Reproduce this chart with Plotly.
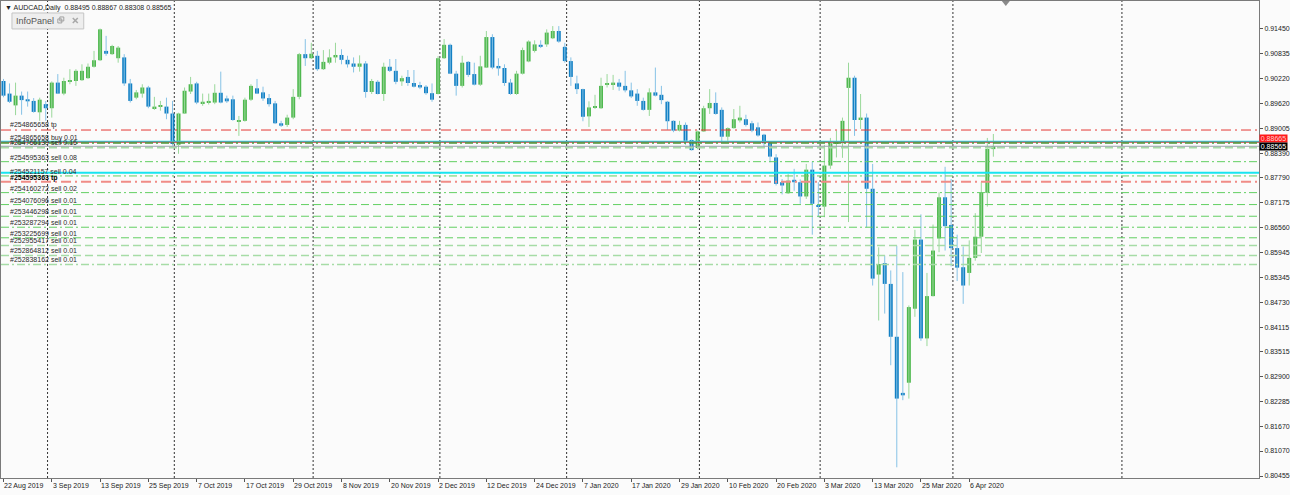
import plotly.graph_objects as go
import pandas as pd

# ---------------- data ----------------
holidays = ["2019-12-25", "2020-01-01"]
dates = [d for d in pd.bdate_range("2019-08-22", "2020-04-10") if d.strftime("%Y-%m-%d") not in holidays]

opens = [0.9017, 0.8986, 0.8957, 0.8981, 0.8972, 0.8968, 0.8940, 0.8960, 0.8950, 0.9013,
         0.8986, 0.9015, 0.9017, 0.9019, 0.9024, 0.9052, 0.9068, 0.9091, 0.9083, 0.9073,
         0.9075, 0.9011, 0.8976, 0.8986, 0.9001, 0.8950, 0.8954, 0.8954, 0.8937, 0.8860,
         0.8937, 0.8991, 0.9011, 0.8962, 0.8964, 0.8964, 0.8988, 0.8974, 0.8972, 0.8918,
         0.8919, 0.8971, 0.8999, 0.8989, 0.8975, 0.8962, 0.8913, 0.8909, 0.8927, 0.8978,
         0.9083, 0.9073, 0.9079, 0.9046, 0.9062, 0.9075, 0.9081, 0.9069, 0.9060, 0.9052,
         0.9060, 0.8990, 0.9015, 0.8985, 0.9052, 0.9042, 0.9016, 0.9027, 0.9012, 0.9007,
         0.9003, 0.8987, 0.8985, 0.9073, 0.9106, 0.9035, 0.9005, 0.9064, 0.9034, 0.9008,
         0.9050, 0.9125, 0.9054, 0.9049, 0.9013, 0.8985, 0.9035, 0.9065, 0.9091, 0.9106,
         0.9107, 0.9122, 0.9140, 0.9101, 0.9066, 0.9011, 0.8997, 0.8930, 0.8953, 0.8950,
         0.9008, 0.9009, 0.9013, 0.9005, 0.8994, 0.8986, 0.8968, 0.8946, 0.8989, 0.8983,
         0.8966, 0.8919, 0.8895, 0.8909, 0.8872, 0.8852, 0.8893, 0.8950, 0.8963, 0.8946,
         0.8880, 0.8901, 0.8920, 0.8923, 0.8913, 0.8903, 0.8885, 0.8866, 0.8829, 0.8768,
         0.8741, 0.8774, 0.8768, 0.8733, 0.8799, 0.8711, 0.8708, 0.8809, 0.8862, 0.8864,
         0.9000, 0.9025, 0.8921, 0.8927, 0.8752, 0.8541, 0.8569, 0.8518, 0.8388, 0.8250,
         0.8275, 0.8457, 0.8627, 0.8384, 0.8488, 0.8630, 0.8731, 0.8663, 0.8606, 0.8559,
         0.8545, 0.8582, 0.8634, 0.8742, 0.88495]

highs = [0.9022, 0.9011, 0.9013, 0.8991, 0.8991, 0.8975, 0.8976, 0.8968, 0.9016, 0.9034,
         0.9025, 0.9046, 0.9046, 0.9058, 0.9060, 0.9091, 0.9146, 0.9128, 0.9106, 0.9103,
         0.9083, 0.9022, 0.8995, 0.9009, 0.9005, 0.8978, 0.8968, 0.8976, 0.8968, 0.8939,
         0.9001, 0.9027, 0.9015, 0.8986, 0.8986, 0.9009, 0.9040, 0.8981, 0.8981, 0.8931,
         0.8976, 0.9009, 0.9022, 0.9003, 0.8985, 0.8968, 0.8919, 0.8934, 0.8997, 0.9086,
         0.9120, 0.9111, 0.9091, 0.9093, 0.9095, 0.9111, 0.9095, 0.9079, 0.9075, 0.9080,
         0.9066, 0.9022, 0.9019, 0.9062, 0.9071, 0.9071, 0.9030, 0.9044, 0.9044, 0.9015,
         0.9007, 0.9011, 0.9078, 0.9120, 0.9109, 0.9042, 0.9079, 0.9066, 0.9062, 0.9079,
         0.9140, 0.9132, 0.9073, 0.9058, 0.9022, 0.9042, 0.9099, 0.9117, 0.9117, 0.9117,
         0.9144, 0.9152, 0.9152, 0.9111, 0.9075, 0.9030, 0.8998, 0.8967, 0.8983, 0.9025,
         0.9034, 0.9032, 0.9022, 0.9042, 0.9013, 0.8997, 0.8976, 0.8999, 0.9050, 0.9005,
         0.8968, 0.8920, 0.8919, 0.8915, 0.8873, 0.8895, 0.8956, 0.8997, 0.8989, 0.8952,
         0.8903, 0.8948, 0.8956, 0.8934, 0.8919, 0.8915, 0.8887, 0.8868, 0.8837, 0.8776,
         0.8788, 0.8801, 0.8775, 0.8813, 0.8819, 0.8768, 0.8860, 0.8877, 0.8895, 0.8927,
         0.9062, 0.9030, 0.8985, 0.8937, 0.8813, 0.8608, 0.8588, 0.8551, 0.8612, 0.8547,
         0.8465, 0.8651, 0.8689, 0.8545, 0.8664, 0.8743, 0.8806, 0.8776, 0.8639, 0.8610,
         0.8625, 0.8692, 0.8768, 0.8877, 0.88867]

lows = [0.8977, 0.8963, 0.8933, 0.8934, 0.8954, 0.8939, 0.8919, 0.8919, 0.8927, 0.8985,
        0.8982, 0.9009, 0.9005, 0.9017, 0.9022, 0.9050, 0.9066, 0.9079, 0.9081, 0.9062,
        0.9005, 0.8964, 0.8972, 0.8976, 0.8950, 0.8946, 0.8944, 0.8923, 0.8858, 0.8838,
        0.8936, 0.8985, 0.8960, 0.8956, 0.8959, 0.8960, 0.8962, 0.8963, 0.8919, 0.8882,
        0.8917, 0.8968, 0.8985, 0.8968, 0.8954, 0.8911, 0.8904, 0.8904, 0.8923, 0.8972,
        0.9054, 0.9071, 0.9042, 0.9044, 0.9058, 0.9062, 0.9058, 0.9050, 0.9038, 0.9040,
        0.8976, 0.8985, 0.8984, 0.8968, 0.9039, 0.9009, 0.9005, 0.9005, 0.9001, 0.8997,
        0.8983, 0.8966, 0.8984, 0.9071, 0.9034, 0.8981, 0.9001, 0.9027, 0.9006, 0.9005,
        0.9049, 0.9046, 0.9030, 0.9005, 0.8983, 0.8983, 0.9033, 0.9063, 0.9087, 0.9098,
        0.9101, 0.9120, 0.9111, 0.9062, 0.9005, 0.8985, 0.8918, 0.8904, 0.8948, 0.8948,
        0.9001, 0.8995, 0.8993, 0.8989, 0.8975, 0.8956, 0.8944, 0.8931, 0.8979, 0.8960,
        0.8897, 0.8891, 0.8893, 0.8860, 0.8846, 0.8849, 0.8892, 0.8936, 0.8934, 0.8866,
        0.8870, 0.8900, 0.8915, 0.8905, 0.8891, 0.8880, 0.8854, 0.8817, 0.8760, 0.8738,
        0.8739, 0.8747, 0.8715, 0.8727, 0.8639, 0.8682, 0.8682, 0.8801, 0.8829, 0.8828,
        0.8670, 0.8882, 0.8899, 0.8657, 0.8514, 0.8428, 0.8445, 0.8318, 0.8067, 0.8232,
        0.8236, 0.8437, 0.8378, 0.8365, 0.8487, 0.8596, 0.8600, 0.8561, 0.8525, 0.8469,
        0.8514, 0.8575, 0.8594, 0.8708, 0.88308]

closes = [0.8981, 0.8966, 0.8981, 0.8970, 0.8967, 0.8941, 0.8971, 0.8950, 0.9013, 0.8986,
          0.9017, 0.9019, 0.9042, 0.9042, 0.9052, 0.9068, 0.9144, 0.9084, 0.9103, 0.9099,
          0.9011, 0.8968, 0.8989, 0.9001, 0.8954, 0.8954, 0.8958, 0.8937, 0.8862, 0.8937,
          0.8993, 0.9009, 0.8964, 0.8966, 0.8968, 0.8988, 0.8964, 0.8967, 0.8921, 0.8921,
          0.8971, 0.9005, 0.8986, 0.8974, 0.8960, 0.8913, 0.8907, 0.8927, 0.8978, 0.9083,
          0.9073, 0.9084, 0.9046, 0.9064, 0.9075, 0.9081, 0.9069, 0.9058, 0.9052, 0.9060,
          0.8990, 0.9017, 0.8985, 0.9052, 0.9042, 0.9015, 0.9024, 0.9012, 0.9003, 0.9001,
          0.8987, 0.8971, 0.9073, 0.9106, 0.9035, 0.9005, 0.9062, 0.9032, 0.9008, 0.9053,
          0.9125, 0.9050, 0.9048, 0.9012, 0.8985, 0.9035, 0.9093, 0.9114, 0.9107, 0.9101,
          0.9136, 0.9140, 0.9114, 0.9066, 0.9027, 0.8997, 0.8929, 0.8952, 0.8954, 0.9005,
          0.9012, 0.9013, 0.9003, 0.8994, 0.8979, 0.8968, 0.8946, 0.8989, 0.8981, 0.8970,
          0.8918, 0.8895, 0.8909, 0.8870, 0.8847, 0.8893, 0.8950, 0.8963, 0.8936, 0.8880,
          0.8901, 0.8923, 0.8927, 0.8909, 0.8895, 0.8883, 0.8864, 0.8831, 0.8764, 0.8760,
          0.8772, 0.8768, 0.8733, 0.8799, 0.8715, 0.8708, 0.8809, 0.8864, 0.8868, 0.8919,
          0.9025, 0.8921, 0.8927, 0.8752, 0.8531, 0.8567, 0.8518, 0.8388, 0.8236, 0.8244,
          0.8461, 0.8627, 0.8384, 0.8488, 0.8600, 0.8731, 0.8660, 0.8606, 0.8558, 0.8514,
          0.8582, 0.8634, 0.8742, 0.8850, 0.88565]

price_ticks = [0.91450, 0.90835, 0.90220, 0.89620, 0.89005, 0.88390, 0.87790, 0.87175,
               0.86560, 0.85945, 0.85345, 0.84730, 0.84115, 0.83515, 0.82900, 0.82285,
               0.81670, 0.81070, 0.80455]

order_labels = ["#254865658 tp", "#254865658 buy 0.01", "#254766139 sell 0.16",
                "#254595363 sell 0.08", "#254521157 sell 0.04", "#254160272 sell 0.02",
                "#254076096 sell 0.01", "#253446298 sell 0.01", "#253287294 sell 0.01",
                "#253225699 sell 0.01", "#252955417 sell 0.01", "#252864812 sell 0.01",
                "#252838162 sell 0.01"]
order_prices = [0.88964, 0.88645, 0.88537, 0.88186, 0.87835, 0.87425, 0.87131, 0.86844,
                0.86574, 0.86314, 0.86125, 0.85879, 0.85658]
sell_tp_label = "#254595363 tp"
sell_tp_price = 0.87695
bid_price = 0.88565
ask_price = 0.88665
hline_prices = [0.88684, 0.87916]
symbol_title = "AUDCAD,Daily"

# ---------------- geometry / style ----------------
W, H = 1290, 495
PW, PH = 1262, 478
BAR_PX = 6.055
X0_PX = 2.5
Y_TOP = 0.92137
PRICE_PER_PX = 0.0002454

x_range = [(0 - X0_PX) / BAR_PX, (PW - X0_PX) / BAR_PX]
y_range = [Y_TOP - PRICE_PER_PX * PH, Y_TOP]

BLUE_BODY, BLUE_WICK = "#1380c4", "#86c2e6"
GREEN_BODY, GREEN_WICK = "#4fb84f", "#9ad89a"
FONT = "Liberation Sans, Arial, sans-serif"

idx = list(range(len(dates)))
up = [c >= o for o, c in zip(opens, closes)]
min_body = PRICE_PER_PX * 1.0

fig = go.Figure()

# wicks
for flag, col in [(True, GREEN_WICK), (False, BLUE_WICK)]:
    xs, ys = [], []
    for i in idx:
        if up[i] == flag:
            xs += [i, i, None]
            ys += [lows[i], highs[i], None]
    fig.add_trace(go.Scatter(x=xs, y=ys, mode="lines", line=dict(color=col, width=1),
                             hoverinfo="skip", showlegend=False))

# bodies
base = [min(o, c) for o, c in zip(opens, closes)]
height = [max(abs(c - o), min_body) for o, c in zip(opens, closes)]
fig.add_trace(go.Bar(x=idx, y=height, base=base, width=4 / BAR_PX,
                     marker=dict(color=[GREEN_BODY if u else BLUE_BODY for u in up], line=dict(width=0)),
                     hoverinfo="skip", showlegend=False))

shapes = []
annotations = []

def px_x(px):
    return px / PW

def px_y(py):
    return 1 - py / PH

# month separators (first bar of each month + extrapolated future month)
sep_idx = []
prev_month = None
for i, d in enumerate(dates):
    if prev_month is not None and d.month != prev_month:
        sep_idx.append(i)
    prev_month = d.month
sep_idx.append(len(dates) - 1 + (pd.Timestamp("2020-05-01") - dates[-1]).days)
for s in sep_idx:
    shapes.append(dict(type="line", xref="x", yref="paper", x0=s + 0.3, x1=s + 0.3, y0=0, y1=1,
                       line=dict(color="#333333", width=1, dash="2px,2px"), layer="below"))

GREEN_DD = "#62cf62"
LIGHT_G = "#a6dca6"
DASHDOT = "8px,3px,2px,3px"
DASH = "8px,4px"

def hline(p, color, width, dash=None):
    shapes.append(dict(type="line", xref="paper", yref="y", x0=0, x1=1, y0=p, y1=p,
                       line=dict(color=color, width=width, dash=dash if dash else "solid")))

# order lines
order_styles = [("#e53935", 1, "10px,4px,2px,4px"),
                ("#4a9a3a", 1.5, DASHDOT),
                (LIGHT_G, 2, DASH),
                (GREEN_DD, 1, DASHDOT),
                (GREEN_DD, 1, DASHDOT),
                (GREEN_DD, 1, DASHDOT),
                (GREEN_DD, 1, DASH),
                (GREEN_DD, 1, DASH),
                (GREEN_DD, 1, DASHDOT),
                (GREEN_DD, 1, DASH),
                (LIGHT_G, 1.5, DASH),
                (LIGHT_G, 1.5, DASH),
                (LIGHT_G, 1.5, DASHDOT)]
hline(hline_prices[0], "#18e4f0", 1.5)
hline(ask_price, "#d32f2f", 1)
for p, (c, w, d) in zip(order_prices, order_styles):
    hline(p, c, w, d)
hline(bid_price, "#9aa3ad", 1)
hline(sell_tp_price, "#f08c86", 2, "10px,4px,2px,4px")
hline(hline_prices[1], "#18e4f0", 2)

# order labels
for t, p in zip(order_labels, order_prices):
    annotations.append(dict(text=t, xref="paper", yref="y", x=px_x(7), y=p, xanchor="left",
                            yanchor="bottom", showarrow=False, yshift=-1,
                            font=dict(family=FONT, size=7, color="#2b2b2b")))
annotations.append(dict(text="<b>" + sell_tp_label + "</b>", xref="paper", yref="y", x=px_x(7),
                        y=sell_tp_price, xanchor="left", yanchor="bottom", showarrow=False, yshift=-2,
                        font=dict(family=FONT, size=7, color="#000000")))

# price boxes on the right axis
annotations.append(dict(text="0.88665", xref="paper", yref="y", x=1, y=ask_price, xanchor="left",
                        yanchor="middle", yshift=4, showarrow=False, bgcolor="#ff1a1a", width=27,
                        height=7, borderpad=0, font=dict(family=FONT, size=7, color="#ffd0d0")))
annotations.append(dict(text="0.88565", xref="paper", yref="y", x=1, y=bid_price, xanchor="left",
                        yanchor="middle", showarrow=False, bgcolor="#000000", width=27, height=7,
                        borderpad=0, font=dict(family=FONT, size=7, color="#ffffff")))

# time labels (text starts at the tick)
for i in range(0, len(dates), 8):
    annotations.append(dict(text=dates[i].strftime("%-d %b %Y"), xref="x", yref="paper", x=i, y=0,
                            xanchor="left", yanchor="top", yshift=-2, xshift=-1, showarrow=False,
                            font=dict(family=FONT, size=7, color="#222222")))

# header
o, h, l, c = opens[-1], highs[-1], lows[-1], closes[-1]
annotations.append(dict(text="▼ " + symbol_title + "  " + f"{o:.5f} {h:.5f} {l:.5f} {c:.5f}",
                        xref="paper", yref="paper", x=px_x(2), y=px_y(7), xanchor="left",
                        yanchor="middle", showarrow=False, font=dict(family=FONT, size=7, color="#1e1e1e")))

# InfoPanel widget
shapes.append(dict(type="rect", xref="paper", yref="paper", x0=px_x(11), x1=px_x(83),
                   y0=px_y(28), y1=px_y(12), fillcolor="#eeeeee", line=dict(color="#c4c4c4", width=1)))
annotations.append(dict(text="InfoPanel", xref="paper", yref="paper", x=px_x(13), y=px_y(20),
                        xanchor="left", yanchor="middle", showarrow=False,
                        font=dict(family=FONT, size=9, color="#555555")))
shapes.append(dict(type="rect", xref="paper", yref="paper", x0=px_x(57), x1=px_x(61),
                   y0=px_y(22), y1=px_y(18), line=dict(color="#a0a0a0", width=1)))
shapes.append(dict(type="rect", xref="paper", yref="paper", x0=px_x(59), x1=px_x(63),
                   y0=px_y(20), y1=px_y(16), line=dict(color="#a0a0a0", width=1)))
shapes.append(dict(type="line", xref="paper", yref="paper", x0=px_x(72), x1=px_x(77),
                   y0=px_y(17), y1=px_y(22), line=dict(color="#a8a8a8", width=1.5)))
shapes.append(dict(type="line", xref="paper", yref="paper", x0=px_x(72), x1=px_x(77),
                   y0=px_y(22), y1=px_y(17), line=dict(color="#a8a8a8", width=1.5)))

# chart shift marker
tx = 1008
shapes.append(dict(type="path", xref="paper", yref="paper",
                   path=f"M {px_x(tx-4)} {px_y(0)} L {px_x(tx+4)} {px_y(0)} L {px_x(tx)} {px_y(5)} Z",
                   fillcolor="#8a8a8a", line=dict(width=0)))

fig.update_layout(
    width=W, height=H,
    margin=dict(l=0, r=W - PW, t=0, b=H - PH),
    paper_bgcolor="#fbfbfb", plot_bgcolor="#fbfbfb",
    showlegend=False, hovermode=False,
    shapes=shapes, annotations=annotations,
    font=dict(family=FONT, size=7, color="#222222"),
    xaxis=dict(range=x_range, tickvals=list(range(0, len(dates), 8)), showticklabels=False,
               ticks="outside", ticklen=3, tickcolor="#555555", showgrid=False, zeroline=False,
               showline=True, linecolor="#7a7a7a", linewidth=1, mirror=True, fixedrange=True),
    yaxis=dict(range=y_range, side="right", tickvals=price_ticks,
               ticktext=[f"{v:.5f}" for v in price_ticks], ticks="outside", ticklen=3,
               tickcolor="#555555", tickfont=dict(family=FONT, size=7, color="#222222"),
               showgrid=False, zeroline=False, showline=True, linecolor="#7a7a7a",
               linewidth=1, mirror=True, fixedrange=True),
)

fig.write_html("out.html")
